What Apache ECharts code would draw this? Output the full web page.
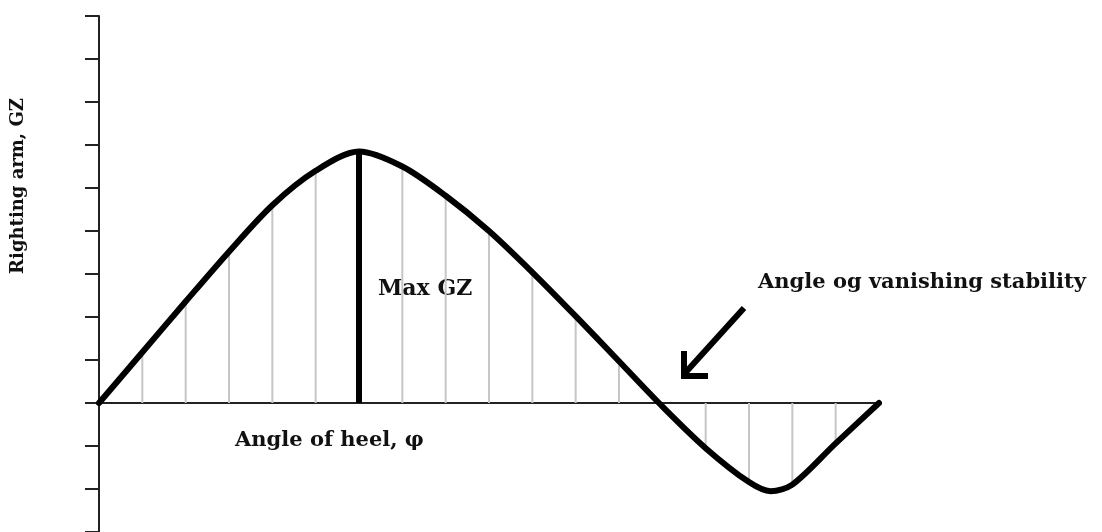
<!DOCTYPE html>
<html>
<head>
<meta charset="utf-8">
<script src="https://cdn.jsdelivr.net/npm/echarts@6/dist/echarts.min.js"></script>
<style>
  html, body { margin: 0; padding: 0; background: #fff; }
  #chart { width: 1102px; height: 532px; }
</style>
</head>
<body>
<div id="chart"></div>
<script>
// angle of heel (deg) and righting arm GZ
const angles = [0, 10, 20, 30, 40, 50, 60, 70, 80, 90, 100, 110, 120, 130, 140, 150, 155, 160, 170, 180];
const gz = [0, 1.18, 2.36, 3.52, 4.6, 5.4, 5.85, 5.5, 4.82, 4.0, 3.04, 2.02, 0.97, -0.08, -1.05, -1.84, -2.05, -1.9, -0.94, 0];
const maxGzAngle = 60;
const yTicks = [-3, -2, -1, 0, 1, 2, 3, 4, 5, 6, 7, 8, 9];

const labelFont = 'bold 21px "DejaVu Serif"';
const ink = '#111';

const chart = echarts.init(document.getElementById('chart'));

const curve = angles.map((a, i) => [a, gz[i]]);
// thin grey hatching every 10 degrees
const hatch = curve.filter(p => p[0] % 10 === 0 && p[0] !== maxGzAngle);
const peak = gz[angles.indexOf(maxGzAngle)];

const option = {
    animation: false,
    backgroundColor: '#fff',
    grid: { left: 99, right: 223, top: 16, bottom: 0 },
    xAxis: {
        type: 'value',
        min: 0,
        max: 180,
        axisLine: { onZero: true, lineStyle: { color: '#222', width: 2 } },
        axisTick: { show: false },
        axisLabel: { show: false },
        splitLine: { show: false }
    },
    yAxis: {
        type: 'value',
        min: -3,
        max: 9,
        interval: 1,
        axisLine: { show: true, onZero: false, lineStyle: { color: '#222', width: 2 } },
        axisTick: { show: true, length: 14, lineStyle: { color: '#222', width: 2 }, customValues: yTicks },
        axisLabel: { show: false },
        splitLine: { show: false }
    },
    series: [
        {
            type: 'bar',
            data: hatch,
            barWidth: 2,
            itemStyle: { color: '#c6c6c6' },
            z: 1
        },
        {
            type: 'line',
            data: [[maxGzAngle, 0], [maxGzAngle, peak]],
            symbol: 'none',
            lineStyle: { color: '#000', width: 6 },
            z: 3
        },
        {
            type: 'line',
            data: curve,
            smooth: 0.3,
            symbol: 'none',
            lineStyle: { color: '#000', width: 6, cap: 'round', join: 'round' },
            z: 4
        }
    ],
    graphic: [
        {
            type: 'text', x: 18, y: 186, rotation: Math.PI / 2,
            style: { text: 'Righting arm, GZ', font: 'bold 18px "DejaVu Serif"', fill: ink, textAlign: 'center', textVerticalAlign: 'middle' }
        },
        {
            type: 'text', x: 378, y: 289,
            style: { text: 'Max GZ', font: 'bold 22px "DejaVu Serif"', fill: ink, textAlign: 'left', textVerticalAlign: 'middle' }
        },
        {
            type: 'text', x: 235, y: 441,
            style: { text: 'Angle of heel, φ', font: labelFont, fill: ink, textAlign: 'left', textVerticalAlign: 'middle' }
        },
        {
            type: 'text', x: 758, y: 283,
            style: { text: 'Angle og vanishing stability', font: labelFont, fill: ink, textAlign: 'left', textVerticalAlign: 'middle' }
        },
        {
            type: 'line',
            shape: { x1: 744, y1: 308, x2: 686, y2: 372 },
            style: { stroke: '#000', lineWidth: 6 }
        },
        {
            type: 'polyline',
            shape: { points: [[684, 351], [684, 376], [708, 376]] },
            style: { stroke: '#000', lineWidth: 6, fill: null, lineJoin: 'miter' }
        }
    ]
};

chart.setOption(option);
</script>
</body>
</html>
